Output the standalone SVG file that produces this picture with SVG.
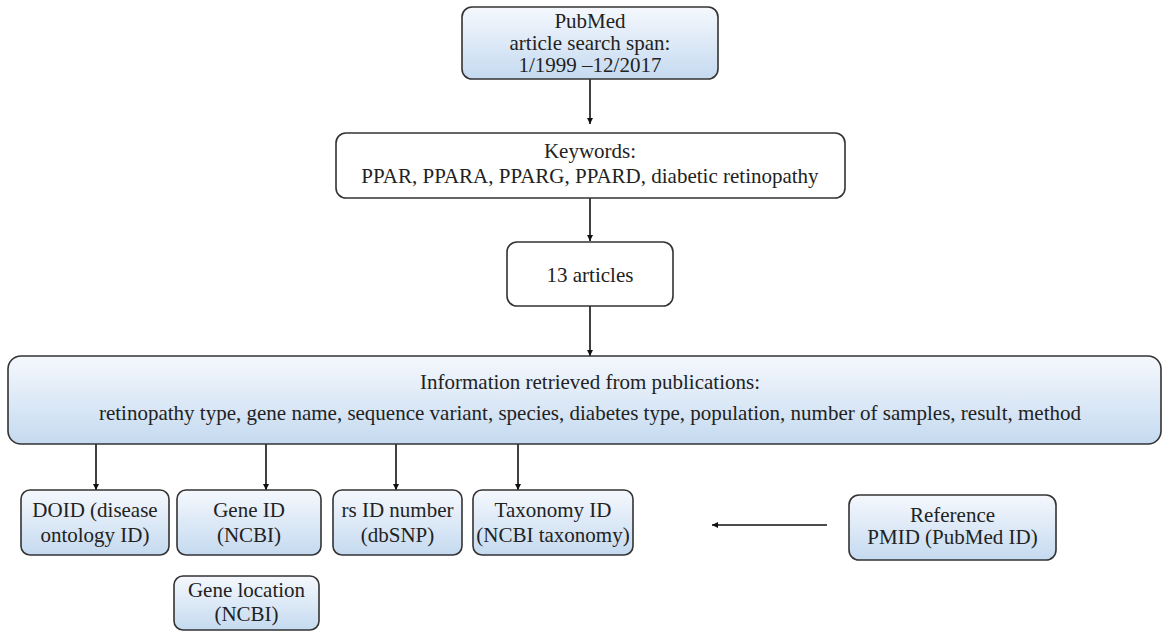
<svg xmlns="http://www.w3.org/2000/svg" width="1163" height="631" viewBox="0 0 1163 631">
<defs>
<linearGradient id="blue" x1="0" y1="0" x2="0" y2="1">
<stop offset="0" stop-color="#f5f8fd"/>
<stop offset="1" stop-color="#c5daf0"/>
</linearGradient>
<marker id="arr" viewBox="0 0 10 10" refX="10" refY="5" markerWidth="6" markerHeight="6" markerUnits="userSpaceOnUse" orient="auto">
<path d="M0,0 L10,5 L0,10 z" fill="#111"/>
</marker>
<style>
.b{fill:url(#blue);stroke:#333;stroke-width:1.6}
.w{fill:#fff;stroke:#333;stroke-width:1.6}
.t text{font-size:21px;fill:#222;text-anchor:middle}
.c line{stroke:#111;stroke-width:1.6;marker-end:url(#arr)}
</style>
</defs>
<rect width="1163" height="631" fill="#fff"/>
<g class="c" id="connectors">
<line x1="590" y1="79" x2="590" y2="124"/>
<line x1="590" y1="198" x2="590" y2="241"/>
<line x1="590" y1="306" x2="590" y2="356"/>
<line x1="96" y1="444" x2="96" y2="490"/>
<line x1="266" y1="444" x2="266" y2="490"/>
<line x1="396" y1="444" x2="396" y2="490"/>
<line x1="518" y1="444" x2="518" y2="490"/>
<line x1="827" y1="525" x2="712" y2="525"/>
</g>
<g class="t" font-family="'Liberation Serif', 'Times New Roman', 'DejaVu Serif', serif">
<g id="pubmed">
<rect class="b" x="462" y="7" width="256" height="72" rx="10"/>
<text x="590" y="28">PubMed</text>
<text x="590" y="50">article search span:</text>
<text x="590" y="72">1/1999 –12/2017</text>
</g>
<g id="keywords">
<rect class="w" x="336" y="133" width="509" height="65" rx="10"/>
<text x="590" y="158">Keywords:</text>
<text x="590" y="183">PPAR, PPARA, PPARG, PPARD, diabetic retinopathy</text>
</g>
<g id="articles">
<rect class="w" x="507" y="242" width="166" height="64" rx="10"/>
<text x="590" y="282">13 articles</text>
</g>
<g id="info">
<rect class="b" x="8" y="356" width="1153" height="88" rx="13"/>
<text x="590" y="389">Information retrieved from publications:</text>
<text x="590" y="420">retinopathy type, gene name, sequence variant, species, diabetes type, population, number of samples, result, method</text>
</g>
<g id="doid">
<rect class="b" x="21" y="490" width="148" height="65" rx="9"/>
<text x="95" y="517">DOID (disease</text>
<text x="95" y="542">ontology ID)</text>
</g>
<g id="geneid">
<rect class="b" x="177" y="490" width="144" height="65" rx="9"/>
<text x="249" y="517">Gene ID</text>
<text x="249" y="542">(NCBI)</text>
</g>
<g id="genelocation">
<rect class="b" x="174" y="576" width="145" height="54" rx="9"/>
<text x="246.5" y="597">Gene location</text>
<text x="246.5" y="621">(NCBI)</text>
</g>
<g id="rsid">
<rect class="b" x="333" y="490" width="129" height="65" rx="9"/>
<text x="397.5" y="517">rs ID number</text>
<text x="397.5" y="542">(dbSNP)</text>
</g>
<g id="taxonomy">
<rect class="b" x="473" y="490" width="160" height="65" rx="9"/>
<text x="553" y="517">Taxonomy ID</text>
<text x="553" y="542">(NCBI taxonomy)</text>
</g>
<g id="reference">
<rect class="b" x="849" y="495" width="207" height="65" rx="10"/>
<text x="952.5" y="522">Reference</text>
<text x="952.5" y="544">PMID (PubMed ID)</text>
</g>
</g>
</svg>
